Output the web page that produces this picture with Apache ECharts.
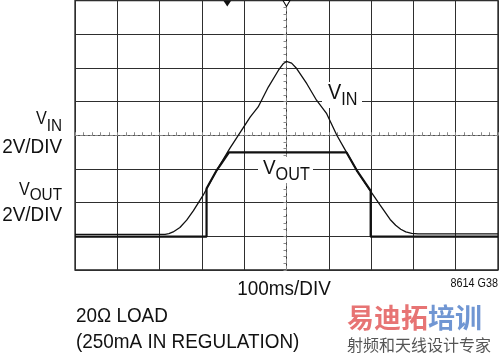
<!DOCTYPE html>
<html><head><meta charset="utf-8">
<script src="https://cdn.jsdelivr.net/npm/echarts/dist/echarts.min.js"></script>
<style>html,body{margin:0;padding:0;background:#fff}#c{width:500px;height:353px}</style>
</head><body><div id="c"></div>
<script>
// Oscilloscope traces, in screen divisions (x: 0..10 time div, y: 0..8 vertical div)
const vinX  = [0, 2.13, 2.22, 2.32, 2.48, 2.64, 2.80, 3.03, 3.35, 3.66, 4.14, 4.33, 4.57, 4.81, 4.92, 5.00, 5.12, 5.24, 5.48, 5.71, 5.95, 6.19, 6.42, 6.66, 6.97, 7.21, 7.45, 7.58, 7.70, 7.82, 7.96, 8.11, 10];
const vinY  = [1.06, 1.06, 1.08, 1.13, 1.26, 1.48, 1.76, 2.22, 2.96, 3.61, 4.54, 4.84, 5.43, 5.93, 6.12, 6.19, 6.14, 5.98, 5.53, 5.04, 4.64, 4.00, 3.49, 2.96, 2.37, 1.93, 1.50, 1.33, 1.21, 1.13, 1.09, 1.07, 1.07];
const voutX = [0, 3.11, 3.11, 3.35, 3.64, 6.42, 6.66, 6.99, 6.99, 10];
const voutY = [0.99, 0.99, 2.42, 2.96, 3.49, 3.49, 2.96, 2.35, 0.99, 0.99];
const triggerX = [3.6, 5.0];   // trigger / position markers on the top edge
const xDivs = 10, yDivs = 8;
const texts = {
  vin: ['V', 'IN'], vout: ['V', 'OUT'], scale: '2V/DIV', time: '100ms/DIV',
  fig: '8614 G38', load1: '20Ω LOAD', load2: '(250mA IN REGULATION)',
  wm1a: '易迪拓', wm1b: '培训', wm2: '射频和天线设计专家'
};

const zip = (xs, ys) => xs.map((x, i) => [x, ys[i]]);
const FONT = '"Liberation Sans", Arial, sans-serif';
const INK = '#111';

function subLabel(x, y, parts, align, fMain, fSub, shift) {
  return {
    type: 'text', x: x, y: y, scaleX: 0.9, z: 5,
    style: {
      text: '{v|' + parts[0] + '}{s|' + parts[1] + '}',
      align: align, verticalAlign: 'top', fill: INK, fontFamily: FONT,
      rich: {
        v: { fontSize: fMain, lineHeight: fMain, verticalAlign: 'top', fill: INK, fontFamily: FONT },
        s: { fontSize: fSub, lineHeight: fMain + 2 * shift, fill: INK, fontFamily: FONT }
      }
    }
  };
}
function plain(x, y, text, align, size) {
  return {
    type: 'text', x: x, y: y, scaleX: 0.9, z: 5,
    style: { text: text, align: align, verticalAlign: 'middle', fill: INK, fontFamily: FONT, fontSize: size }
  };
}

const chart = echarts.init(document.getElementById('c'), null, { renderer: 'canvas' });
const axisHidden = { axisLabel: { show: false }, axisTick: { show: false } };
chart.setOption({
  animation: false,
  backgroundColor: '#fff',
  grid: { left: 75, right: 2, top: 0.5, bottom: 83, show: true, borderColor: '#222', borderWidth: 1.3 },
  xAxis: [
    Object.assign({ type: 'value', min: 0, max: xDivs, interval: 1,
      axisLine: { show: false },
      splitLine: { show: true, lineStyle: { color: '#2e2e2e', width: 1 } } }, axisHidden),
    { type: 'value', min: -xDivs / 2, max: xDivs / 2, interval: 1, position: 'bottom',
      axisLine: { show: true, onZero: true, onZeroAxisIndex: 1, lineStyle: { color: '#888', width: 1, type: [3, 2] } },
      axisTick: { show: true, inside: true, length: 3, lineStyle: { color: '#888' } },
      minorTick: { show: true, splitNumber: 5, length: 3, lineStyle: { color: '#888' } },
      axisLabel: { show: false }, splitLine: { show: false } }
  ],
  yAxis: [
    Object.assign({ type: 'value', min: 0, max: yDivs, interval: 1,
      axisLine: { show: false },
      splitLine: { show: true, lineStyle: { color: '#2e2e2e', width: 1 } } }, axisHidden),
    { type: 'value', min: -yDivs / 2, max: yDivs / 2, interval: 1,
      axisLine: { show: true, onZero: true, onZeroAxisIndex: 1, lineStyle: { color: '#888', width: 1, type: [4, 3] } },
      axisTick: { show: true, inside: true, length: 3, lineStyle: { color: '#888' } },
      minorTick: { show: true, splitNumber: 5, length: 3, lineStyle: { color: '#888' } },
      axisLabel: { show: false }, splitLine: { show: false } }
  ],
  series: [
    { name: 'VIN', type: 'line', xAxisIndex: 0, yAxisIndex: 0, data: zip(vinX, vinY),
      showSymbol: false, symbol: 'none', smooth: false, z: 3,
      lineStyle: { color: INK, width: 1.3 },
      markPoint: {
        silent: true, label: { show: false },
        data: [
          { coord: [triggerX[0], yDivs], symbol: 'triangle', symbolRotate: 180, symbolSize: [8, 6], symbolOffset: [0, 3],
            itemStyle: { color: INK } },
          { coord: [triggerX[1], yDivs], symbol: 'triangle', symbolRotate: 180, symbolSize: [7, 6], symbolOffset: [0, 3],
            itemStyle: { color: '#fff', borderColor: INK, borderWidth: 1 } }
        ]
      } },
    { name: 'VOUT', type: 'line', xAxisIndex: 0, yAxisIndex: 0, data: zip(voutX, voutY),
      showSymbol: false, symbol: 'none', z: 3,
      lineStyle: { color: INK, width: 2.2 } }
  ],
  graphic: { elements: [
    // knock-outs behind in-plot trace labels
    { type: 'rect', z: 1, shape: { x: 322, y: 82, width: 40, height: 26 }, style: { fill: '#fff' } },
    { type: 'rect', z: 1, shape: { x: 258, y: 157, width: 55, height: 26 }, style: { fill: '#fff' } },
    subLabel(328, 81.5, texts.vin, 'left', 22, 18, 8),
    subLabel(263, 158, texts.vout, 'left', 21, 18, 7),
    // left scale labels
    subLabel(62, 110, texts.vin, 'right', 18, 17, 7),
    plain(62, 146.8, texts.scale, 'right', 21),
    subLabel(62, 181, texts.vout, 'right', 18, 17, 5),
    plain(62, 215, texts.scale, 'right', 21),
    // bottom texts
    plain(284, 289, texts.time, 'center', 21),
    plain(498, 284, texts.fig, 'right', 12),
    plain(76, 316.5, texts.load1, 'left', 21),
    plain(76, 342, texts.load2, 'left', 21),
    // watermark
    { type: 'text', x: 347, y: 317.5, z: 5,
      style: { text: '{r|' + texts.wm1a + '}{b|' + texts.wm1b + '}', align: 'left', verticalAlign: 'middle',
        rich: {
          r: { fontSize: 27, fontWeight: 'bold', fontFamily: '"Noto Sans CJK SC"', fill: '#e77474' },
          b: { fontSize: 27, fontWeight: 'bold', fontFamily: '"Noto Sans CJK SC"', fill: '#7096d3' }
        } } },
    { type: 'text', x: 347, y: 344.5, z: 5,
      style: { text: texts.wm2, align: 'left', verticalAlign: 'middle', fontSize: 16,
        fontFamily: '"Noto Sans CJK SC"', fill: '#555' } }
  ] }
});
</script>
</body></html>
